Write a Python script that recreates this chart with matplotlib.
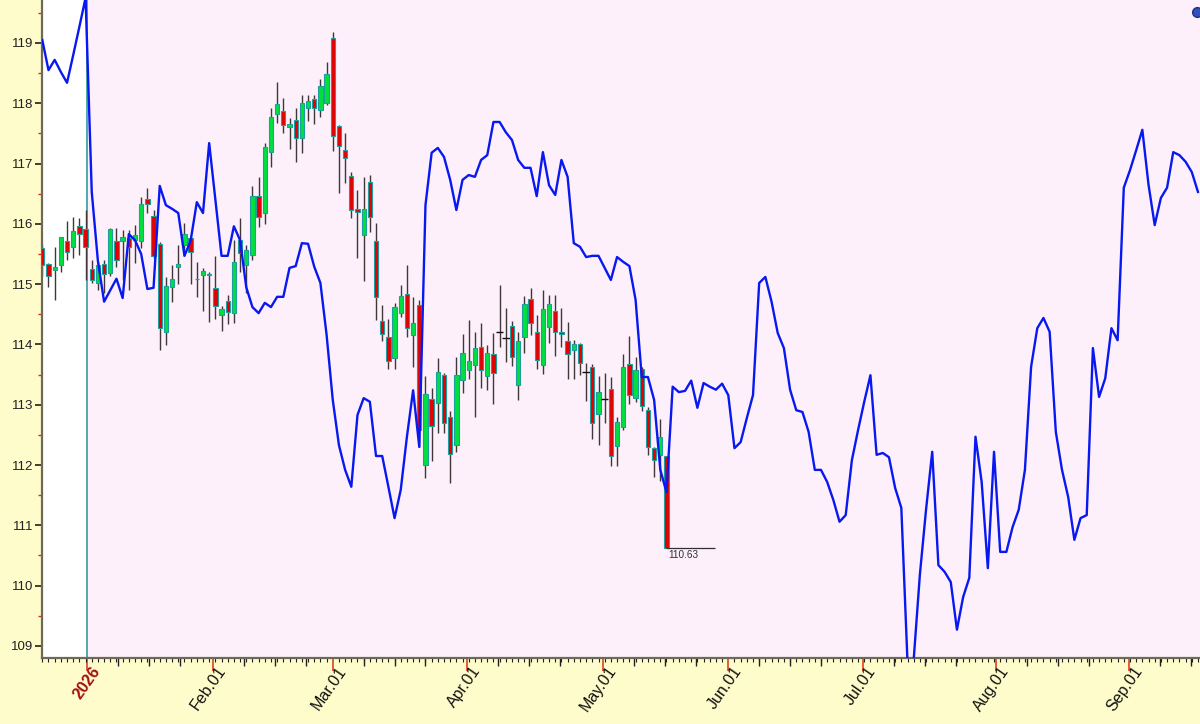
import matplotlib
matplotlib.use("Agg")
import matplotlib.pyplot as plt
import matplotlib.transforms as mtransforms
import numpy as np

# ---------------- data ----------------
opens = [115.60, 115.34, 115.24, 115.32, 115.72, 115.61, 115.97, 115.91, 115.25, 115.02,
         115.34, 115.18, 115.72, 115.71, 115.77, 115.73, 115.71, 116.41, 116.13, 115.66,
         114.21, 114.96, 115.29, 115.65, 115.76, 115.08, 115.15, 115.15, 114.93, 114.49,
         114.72, 114.52, 115.74, 115.32, 115.48, 116.46, 116.18, 117.20, 117.83, 117.88,
         117.61, 117.72, 117.42, 117.92, 118.07, 117.89, 118.01, 119.09, 117.62, 117.22,
         116.79, 116.24, 115.82, 116.69, 115.72, 114.39, 114.12, 113.77, 114.52, 114.84,
         114.16, 114.65, 112.00, 113.09, 113.03, 113.49, 112.80, 112.33, 113.41, 113.58,
         113.66, 113.96, 113.48, 113.84, 114.20, 114.11, 114.31, 113.32, 114.13, 114.75,
         114.20, 113.66, 114.29, 114.56, 114.20, 114.06, 113.91, 114.01, 113.55, 113.62,
         112.84, 113.09, 113.26, 112.31, 112.63, 113.68, 113.12, 113.59, 112.92, 112.28,
         112.17, 112.15]
highs = [115.65, 115.35, 115.62, 115.79, 116.04, 116.12, 116.10, 116.23, 115.40, 115.37,
         115.40, 115.93, 115.93, 115.90, 115.90, 115.98, 116.45, 116.59, 116.23, 115.70,
         115.12, 115.32, 115.65, 116.01, 115.79, 115.37, 115.26, 115.21, 115.46, 114.64,
         114.82, 115.74, 116.09, 115.65, 116.62, 116.77, 117.34, 117.92, 118.36, 118.08,
         117.75, 117.92, 118.14, 118.14, 118.14, 118.40, 118.69, 119.19, 117.64, 117.50,
         116.86, 116.56, 116.78, 116.81, 116.01, 114.65, 114.43, 114.68, 114.99, 115.32,
         114.79, 114.74, 113.48, 113.27, 113.77, 113.52, 112.89, 113.80, 114.17, 114.41,
         114.21, 114.36, 113.99, 114.19, 114.99, 114.60, 114.39, 114.21, 114.80, 114.93,
         114.49, 114.90, 114.82, 114.82, 114.60, 114.38, 114.07, 114.02, 113.70, 113.68,
         113.47, 113.52, 113.46, 112.80, 113.85, 114.14, 113.80, 113.63, 112.96, 112.30,
         112.76, 112.15]
lows = [115.13, 114.96, 114.74, 115.21, 115.40, 115.43, 115.48, 115.07, 115.02, 114.90,
        114.85, 115.13, 115.29, 115.07, 114.90, 115.35, 115.60, 116.18, 115.43, 113.91,
        113.99, 114.70, 115.00, 115.46, 115.00, 114.79, 114.56, 114.38, 114.43, 114.23,
        114.34, 114.36, 115.21, 114.85, 115.40, 115.95, 116.00, 116.94, 117.67, 117.50,
        117.25, 117.03, 117.18, 117.71, 117.66, 117.78, 117.97, 117.21, 116.52, 116.68,
        116.09, 115.43, 115.06, 115.87, 114.41, 114.05, 113.59, 113.59, 114.46, 114.13,
        113.63, 112.30, 111.78, 112.06, 112.53, 112.53, 111.70, 112.21, 113.20, 113.42,
        112.80, 113.27, 113.25, 113.02, 113.96, 113.71, 113.64, 113.08, 113.86, 114.16,
        113.59, 113.51, 114.03, 113.81, 113.96, 113.42, 113.42, 113.49, 113.07, 112.43,
        112.33, 112.70, 111.99, 111.99, 112.58, 113.01, 113.05, 112.90, 112.17, 111.81,
        111.73, 110.63]
closes = [115.32, 115.14, 115.29, 115.78, 115.54, 115.88, 115.83, 115.62, 115.07, 115.31,
          115.17, 115.91, 115.40, 115.78, 115.62, 115.82, 116.33, 116.33, 115.46, 114.27,
          114.97, 115.09, 115.33, 115.84, 115.54, 115.09, 115.22, 115.17, 114.63, 114.59,
          114.54, 115.37, 115.51, 115.56, 116.46, 116.12, 117.28, 117.78, 117.99, 117.64,
          117.66, 117.42, 118.01, 118.04, 117.92, 118.29, 118.48, 117.45, 117.29, 117.09,
          116.23, 116.20, 116.24, 116.11, 114.79, 114.17, 113.73, 114.62, 114.80, 114.27,
          114.36, 112.58, 113.18, 112.64, 113.55, 112.69, 112.19, 113.49, 113.86, 113.72,
          113.94, 113.58, 113.86, 113.52, 114.20, 114.11, 113.80, 114.06, 114.67, 114.35,
          113.75, 114.58, 114.67, 114.20, 114.18, 113.85, 114.00, 113.69, 113.55, 112.69,
          113.21, 113.09, 112.15, 112.72, 113.62, 113.16, 113.57, 112.98, 112.30, 112.08,
          112.46, 110.63]

# seasonal comparison line (one value per bar slot)
overlay = [119.05, 118.55, 118.72, 118.52, 118.34, 118.80, 119.27, 119.75, 116.53, 115.38,
           114.71, 114.90, 115.09, 114.77, 115.83, 115.73, 115.50, 114.92, 114.94, 116.63,
           116.31, 116.25, 116.18, 115.47, 115.72, 116.36, 116.18, 117.34, 116.40, 115.47,
           115.47, 115.96, 115.73, 114.95, 114.62, 114.52, 114.69, 114.62, 114.79, 114.79,
           115.27, 115.30, 115.68, 115.67, 115.29, 115.02, 114.16, 113.08, 112.33, 111.92,
           111.64, 112.83, 113.11, 113.05, 112.15, 112.15, 111.64, 111.12, 111.59, 112.47,
           113.24, 112.30, 116.31, 117.18, 117.26, 117.11, 116.73, 116.23, 116.73, 116.81,
           116.78, 117.06, 117.14, 117.69, 117.69, 117.52, 117.39, 117.06, 116.93, 116.93,
           116.46, 117.19, 116.64, 116.48, 117.06, 116.78, 115.68, 115.62, 115.45, 115.47,
           115.47, 115.27, 115.07, 115.45, 115.37, 115.30, 114.74, 113.46, 113.46, 113.08,
           111.92, 111.55, 113.30, 113.21, 113.23, 113.40, 112.95, 113.36, 113.30, 113.25,
           113.35, 113.16, 112.28, 112.38, 112.78, 113.16, 115.02, 115.12, 114.71, 114.19,
           113.94, 113.25, 112.91, 112.88, 112.55, 111.92, 111.92, 111.72, 111.42, 111.06,
           111.17, 112.08, 112.58, 113.05, 113.49, 112.17, 112.20, 112.13, 111.62, 111.29,
           108.73, 108.77, 110.18, 111.26, 112.22, 110.34, 110.23, 110.06, 109.27, 109.81,
           110.13, 112.47, 111.72, 110.29, 112.22, 110.56, 110.56, 110.97, 111.26, 111.92,
           113.63, 114.27, 114.44, 114.21, 112.55, 111.92, 111.47, 110.76, 111.12, 111.17,
           113.94, 113.13, 113.44, 114.27, 114.07, 116.60, 116.89, 117.22, 117.56, 116.65,
           115.98, 116.43, 116.60, 117.19, 117.14, 117.03, 116.86, 116.53]

month_labels = ["2026", "Feb.01", "Mar.01", "Apr.01", "May.01", "Jun.01", "Jul.01", "Aug.01", "Sep.01"]
month_pos = [7.2, 27.6, 47.0, 68.7, 90.7, 111.0, 132.8, 154.3, 175.8]
ytick_vals = list(range(109, 120))
last_price = 110.63

# ---------------- style ----------------
FIG_BG = "#FFFCCB"
PLOT_BG = "#FDF0FA"
UP = "#00E03C"
DOWN = "#E80000"
EDGE = "#1F9EA0"
WICK = "#403838"
BLUE = "#0818F0"

plt.rcParams["font.family"] = ["Liberation Sans", "DejaVu Sans"]

fig = plt.figure(figsize=(12, 7.24), dpi=100, facecolor=FIG_BG)
ax = fig.add_axes([42 / 1200, 66 / 724, 1158 / 1200, 658 / 724])
ax.set_facecolor(PLOT_BG)

x_left, x_right = -0.05, 187.33
ax.set_xlim(x_left, x_right)
ax.set_ylim(108.80, 119.713)

# white region before the year line
ax.axvspan(x_left, month_pos[0], color="white", zorder=0, lw=0)
ax.axvline(month_pos[0], color="#1E9696", lw=1.1, zorder=1)

# candles
n = len(opens)
xs = np.arange(n)
o = np.array(opens); h = np.array(highs); l = np.array(lows); c = np.array(closes)
ax.vlines(xs, l, h, color=WICK, lw=1.0, zorder=2)
doji = np.isclose(o, c)
body_bot = np.minimum(o, c)
body_h = np.abs(c - o)
cols = np.where(c >= o, UP, DOWN)
for i in range(n):
    if doji[i]:
        ax.hlines(o[i], i - 0.6, i + 0.6, color="#101010", lw=1.0, zorder=3)
    else:
        ax.bar(i, body_h[i], bottom=body_bot[i], width=0.7, color=cols[i],
               edgecolor=EDGE, linewidth=0.8, zorder=3)

# overlay line
ax.plot(np.arange(len(overlay)), overlay, color=BLUE, lw=1.7, zorder=4)

# last price marker
ax.hlines(last_price, n - 1, n + 6.9, color="#303030", lw=0.9, zorder=5)
ax.text(n - 0.75, last_price - 0.04, f"{last_price:.2f}", fontsize=7.2, color="#303030",
        va="top", ha="left", zorder=5)

# y axis
ax.set_yticks(ytick_vals)
ax.set_yticklabels([str(v) for v in ytick_vals], fontsize=9.5, color="#202020")
ax.set_yticks(np.arange(109.5, 119.6, 1.0), minor=True)
ax.tick_params(axis="y", which="major", length=5, width=1.2, color="#202020", pad=1)
ax.tick_params(axis="y", which="minor", length=3, width=1.0, color="#D03010")

# x axis
ax.set_xticks(month_pos)
ax.set_xticklabels([])
ax.tick_params(axis="x", which="major", length=9, width=1.2, color="#E04020")
ax.set_xticks(np.arange(0, 188, 1), minor=True)
ax.tick_params(axis="x", which="minor", length=3, width=0.8, color="#202020")

sec = ax.secondary_xaxis("bottom")
week_pos = [p for m in month_pos for p in (m + 5, m + 10, m + 15)]
sec.set_xticks(week_pos)
sec.set_xticklabels([])
sec.tick_params(length=6, width=1.0, color="#202020")
sec.spines["bottom"].set_visible(False)

trans = ax.get_xaxis_transform() + mtransforms.ScaledTranslation(10 / 100, -10 / 100, fig.dpi_scale_trans)
for pos, lab in zip(month_pos, month_labels):
    is_year = lab == "2026"
    ax.text(pos, 0, lab, transform=trans, rotation=55, ha="right", va="center",
            rotation_mode="anchor", fontsize=11.5,
            color="#A01010" if is_year else "#101010",
            fontweight="bold" if is_year else "normal")

for side in ["top", "right"]:
    ax.spines[side].set_visible(False)
for side in ["left", "bottom"]:
    ax.spines[side].set_color("#6E6A58")
    ax.spines[side].set_linewidth(1.6)

# small status dot at top right
fig.add_artist(plt.Line2D([1197 / 1200], [1 - 12 / 724], transform=fig.transFigure,
                          marker="o", markersize=7, markerfacecolor="#3050C0",
                          markeredgecolor="#203080", linestyle="none"))

fig.savefig("out.png", dpi=100, facecolor=FIG_BG)
